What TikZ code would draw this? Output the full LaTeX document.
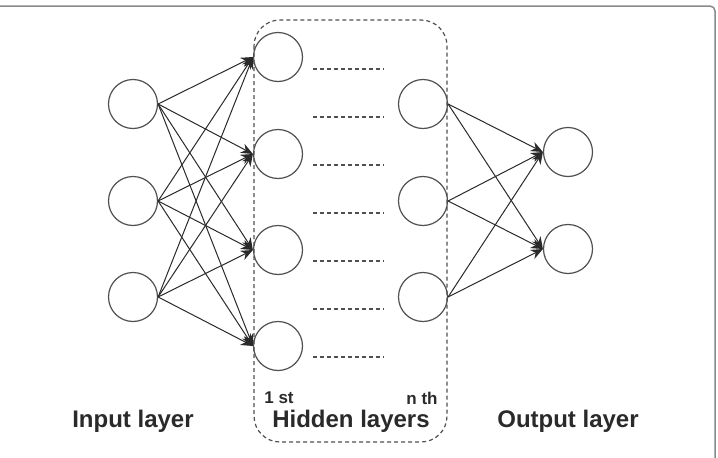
\documentclass[tikz,border=0pt]{standalone}
\usepackage{fontspec}
\setmainfont{Liberation Sans}
\usetikzlibrary{arrows.meta, positioning}
\definecolor{nnline}{HTML}{505050}
\definecolor{nnarrow}{HTML}{2a2a2a}
\definecolor{nnframe}{HTML}{8a8a8a}
\definecolor{nntext}{HTML}{2a2a2a}

\begin{document}
\begin{tikzpicture}[x=1pt, y=-1pt,
    neuron/.style={circle, draw=nnline, line width=1.2pt, minimum size=49pt, inner sep=0pt},
    arrow/.style={-{Stealth[length=12pt, width=10pt]}, line width=1pt, draw=nnarrow},
    dotline/.style={line width=1.2pt, draw=nnline, dash pattern=on 4pt off 3pt},
    layername/.style={font=\bfseries\fontsize{24}{27}\selectfont, text=nntext},
    ordinal/.style={font=\bfseries\fontsize{17}{19}\selectfont, text=nntext}
]
\useasboundingbox (0,0) rectangle (718,458);
\draw[nnframe, line width=1.5pt, rounded corners=5pt] (0,6) -- (715,6) -- (715,460);

% hidden layers box
\draw[dotline, rounded corners=26pt] (254,20) rectangle (447,442);

% input layer
\node[neuron] (in1) at (133,104) {};
\node[neuron] (in2) at (133,201) {};
\node[neuron] (in3) at (133,297) {};

% 1st hidden layer
\node[neuron] (ha1) at (278,57) {};
\node[neuron] (ha2) at (278,154) {};
\node[neuron] (ha3) at (278,250) {};
\node[neuron] (ha4) at (278,346) {};

% nth hidden layer
\node[neuron] (hn1) at (423,104) {};
\node[neuron] (hn2) at (423,201) {};
\node[neuron] (hn3) at (423,297) {};

% output layer
\node[neuron] (out1) at (568,152) {};
\node[neuron] (out2) at (568,249) {};

\foreach \y in {69,117,165,213,261,309,357}
    \draw[dotline] (313,\y) -- (384,\y);

\foreach \i in {1,2,3}
    \foreach \j in {1,2,3,4}
        \draw[arrow] (in\i.east) -- (ha\j.west);
\foreach \i in {1,2,3}
    \foreach \j in {1,2}
        \draw[arrow] (hn\i.east) -- (out\j.west);

\node[ordinal] (first) at (279,398) {1 st};
\node[ordinal] (nth) at (422,398) {n th};
\node[layername] (inlabel) at (133,421) {Input layer};
\node[layername] (hidlabel) at (351,421) {Hidden layers};
\node[layername] (outlabel) at (568,421) {Output layer};
\end{tikzpicture}
\end{document}
